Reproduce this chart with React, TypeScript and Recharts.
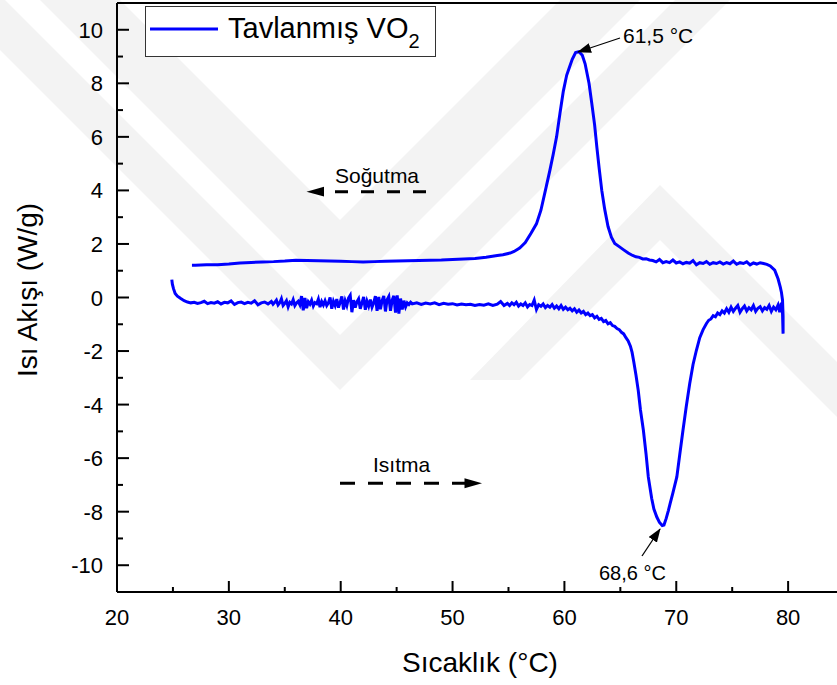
import React from 'react'
import { LineChart, Line, XAxis, YAxis, ReferenceLine } from 'recharts'

const W = 837
const H = 685
const FONT = '"Liberation Sans", Arial, sans-serif'
const BLUE = '#0000ff'

// heating run (lower curve), temperature °C / heat flow W/g
const heating: [number, number][] = [
  [24.9, 0.67], [24.95, 0.5], [25.05, 0.33], [25.2, 0.15], [25.4, 0.05], [25.7, -0.04], [26.0, -0.12], [26.3, -0.17], [26.6, -0.2],
  [26.9, -0.18], [27.2, -0.22], [27.5, -0.19], [27.8, -0.14], [28.1, -0.23], [28.4, -0.19], [28.7, -0.21], [29.0, -0.16], [29.3, -0.24],
  [29.6, -0.18], [29.9, -0.2], [30.2, -0.13], [30.5, -0.26], [30.8, -0.19], [31.1, -0.17], [31.4, -0.23], [31.7, -0.18], [32.0, -0.21],
  [32.3, -0.12], [32.6, -0.27], [32.9, -0.2], [33.2, -0.17], [33.5, -0.24],
  [33.8, -0.15], [33.95, -0.25], [34.1, -0.18], [34.25, -0.1], [34.4, -0.28], [34.55, -0.2], [34.7, -0.05], [34.85, -0.3], [35.0, -0.22],
  [35.15, -0.12], [35.3, -0.35], [35.45, -0.18], [35.6, -0.24], [35.75, -0.08], [35.9, -0.3], [36.05, -0.2], [36.2, -0.14], [36.35, -0.27],
  [36.5, 0.05], [36.65, -0.48], [36.8, -0.02], [36.95, -0.4], [37.1, -0.16], [37.25, -0.25], [37.4, -0.1], [37.55, -0.32], [37.7, -0.19],
  [37.85, -0.23], [38.0, -0.06], [38.15, -0.36], [38.3, -0.15], [38.45, -0.28], [38.6, -0.12], [38.75, -0.3], [38.9, -0.2], [39.05, 0.0],
  [39.2, -0.42], [39.35, -0.14], [39.5, -0.3], [39.65, -0.06], [39.8, -0.38], [39.95, -0.18], [40.1, 0.04], [40.25, -0.45], [40.4, -0.12],
  [40.55, -0.3], [40.7, -0.02], [40.85, 0.08], [41.0, -0.55], [41.15, -0.1], [41.3, -0.38], [41.45, -0.16], [41.6, -0.05], [41.75, -0.42],
  [41.9, -0.2], [42.05, 0.02], [42.2, -0.46], [42.35, -0.14], [42.5, -0.32], [42.65, -0.08], [42.8, -0.36], [42.95, -0.2], [43.1, 0.05],
  [43.25, -0.5], [43.4, 0.02], [43.55, -0.44], [43.7, -0.12], [43.85, 0.06], [44.0, -0.52], [44.15, -0.08], [44.3, 0.04], [44.45, -0.5],
  [44.6, -0.1], [44.75, 0.06], [44.9, -0.56], [45.05, 0.08], [45.2, -0.6], [45.35, -0.04], [45.5, -0.45], [45.65, -0.12], [45.8, -0.35],
  [45.95, -0.2], [46.1, -0.26], [46.25, -0.18], [46.4, -0.24],
  [46.8, -0.2], [47.2, -0.26], [47.6, -0.21], [48.0, -0.24], [48.4, -0.2], [48.8, -0.27], [49.2, -0.22], [49.6, -0.25],
  [50.0, -0.23], [50.4, -0.28], [50.8, -0.24], [51.2, -0.27], [51.6, -0.25], [52.0, -0.3], [52.4, -0.26], [52.8, -0.29], [53.2, -0.24],
  [53.6, -0.3], [54.0, -0.25], [54.3, -0.15], [54.6, -0.3],
  [54.9, -0.22], [55.1, -0.3], [55.3, -0.2], [55.5, -0.27], [55.7, -0.18], [55.9, -0.32], [56.1, -0.24], [56.3, -0.3], [56.5, -0.2],
  [56.7, -0.35], [56.9, -0.26], [57.1, -0.3], [57.3, -0.1], [57.5, -0.45], [57.7, -0.27], [57.9, -0.33], [58.1, -0.24], [58.3, -0.38],
  [58.5, -0.3], [58.7, -0.36], [58.9, -0.26], [59.1, -0.4], [59.3, -0.32], [59.5, -0.42], [59.7, -0.3], [59.9, -0.44], [60.1, -0.36],
  [60.3, -0.46], [60.5, -0.4], [60.7, -0.5], [60.9, -0.42], [61.1, -0.55], [61.3, -0.47], [61.5, -0.58], [61.7, -0.52], [61.9, -0.64],
  [62.1, -0.58], [62.3, -0.68], [62.5, -0.64], [62.7, -0.76], [62.9, -0.7], [63.1, -0.82], [63.3, -0.78], [63.5, -0.9], [63.7, -0.86],
  [63.9, -0.98], [64.1, -0.94], [64.3, -1.05], [64.5, -1.08], [64.7, -1.16], [64.9, -1.2], [65.1, -1.3], [65.3, -1.36], [65.5, -1.5],
  [65.7, -1.62], [65.9, -1.82], [66.05, -2.05], [66.2, -2.4],
  [66.4, -2.9], [66.6, -3.47], [66.8, -4.2], [67.06, -4.96], [67.3, -5.85], [67.5, -6.7], [67.8, -7.5], [68.0, -7.9], [68.26, -8.2],
  [68.5, -8.4], [68.75, -8.52], [68.9, -8.5], [69.1, -8.25], [69.3, -7.95], [69.45, -7.7], [69.7, -7.3], [70.05, -6.7], [70.3, -5.9],
  [70.6, -4.96], [70.9, -4.05], [71.2, -3.22], [71.5, -2.5], [71.8, -1.97], [72.1, -1.5], [72.4, -1.2],
  [72.7, -0.97], [72.9, -0.85], [73.1, -0.8], [73.3, -0.68], [73.5, -0.72], [73.7, -0.58], [73.9, -0.64], [74.1, -0.5], [74.3, -0.58],
  [74.5, -0.42], [74.7, -0.55], [74.9, -0.36], [75.1, -0.52], [75.3, -0.4], [75.5, -0.3], [75.7, -0.55], [75.9, -0.42], [76.1, -0.32],
  [76.3, -0.5], [76.5, -0.38], [76.7, -0.46], [76.9, -0.3], [77.1, -0.52], [77.3, -0.4], [77.5, -0.34], [77.7, -0.5], [77.9, -0.38],
  [78.1, -0.44], [78.3, -0.3], [78.5, -0.52], [78.7, -0.36], [78.9, -0.46], [79.1, -0.28], [79.25, -0.55], [79.4, -0.2], [79.5, -0.6],
  [79.55, -1.35], [79.55, -0.7], [79.5, -0.1],
]

// cooling run (upper curve), read right to left
const cooling: [number, number][] = [
  [79.4, 0.2], [79.3, 0.39], [79.1, 0.7], [78.8, 1.02], [78.4, 1.18], [78.1, 1.24], [77.8, 1.27], [77.5, 1.3], [77.2, 1.25],
  [76.9, 1.29], [76.6, 1.22], [76.3, 1.33], [76.0, 1.27], [75.7, 1.3], [75.4, 1.24], [75.1, 1.36], [74.8, 1.26], [74.5, 1.3],
  [74.2, 1.25], [73.9, 1.33], [73.6, 1.27], [73.3, 1.3], [73.0, 1.24], [72.7, 1.34], [72.4, 1.27], [72.1, 1.3], [71.8, 1.22],
  [71.5, 1.38], [71.2, 1.28], [70.9, 1.31], [70.6, 1.26], [70.3, 1.33], [70.0, 1.29], [69.7, 1.4], [69.4, 1.3], [69.1, 1.34],
  [68.8, 1.3], [68.5, 1.42], [68.2, 1.33], [67.9, 1.38], [67.6, 1.4], [67.3, 1.45], [67.0, 1.44], [66.7, 1.5], [66.4, 1.52],
  [66.1, 1.57], [65.7, 1.66], [65.3, 1.78], [64.9, 1.9], [64.5, 2.02], [64.2, 2.25], [63.9, 2.65], [63.6, 3.3], [63.34, 4.0],
  [63.1, 4.85], [62.9, 5.62], [62.7, 6.45], [62.45, 7.24], [62.2, 8.0], [61.85, 8.73], [61.6, 9.05], [61.3, 9.18], [61.0, 9.15],
  [60.7, 8.9], [60.45, 8.6], [60.2, 8.3], [59.9, 7.7], [59.6, 6.87], [59.3, 6.0], [59.0, 5.35], [58.7, 4.75], [58.3, 4.0],
  [57.9, 3.26], [57.5, 2.75], [57.0, 2.39], [56.5, 2.05], [56.0, 1.85], [55.5, 1.72], [55.15, 1.66], [54.5, 1.6], [54.0, 1.57],
  [53.0, 1.5], [52.0, 1.46], [51.0, 1.44], [50.0, 1.42], [49.0, 1.4], [48.0, 1.39], [47.0, 1.38], [46.0, 1.37], [45.0, 1.36],
  [44.0, 1.35], [43.0, 1.34], [42.0, 1.33], [41.0, 1.34], [40.0, 1.35], [39.0, 1.36], [38.0, 1.37], [37.0, 1.38], [36.0, 1.39],
  [35.0, 1.36], [34.0, 1.34], [33.0, 1.33], [32.0, 1.31], [31.0, 1.29], [30.0, 1.25], [29.0, 1.22], [28.0, 1.22], [27.0, 1.2],
  [26.7, 1.2],
]

const xTicks = [20, 25, 30, 35, 40, 45, 50, 55, 60, 65, 70, 75, 80]
const yTicks = [-10, -9, -8, -7, -6, -5, -4, -3, -2, -1, 0, 1, 2, 3, 4, 5, 6, 7, 8, 9, 10]

const data = [...heating, ...cooling].map(([t, q]) => ({ t, q }))

const XTick = (props: any) => {
  const { x, y, payload } = props
  const major = payload.value % 10 === 0
  return (
    <g>
      <line x1={x} x2={x} y1={y} y2={y - (major ? 11 : 5)} stroke="#000" strokeWidth={2} />
      {major && (
        <text x={x} y={y + 33} textAnchor="middle" fontSize={22} fontFamily={FONT} fill="#000">
          {payload.value}
        </text>
      )}
    </g>
  )
}

const YTick = (props: any) => {
  const { x, y, payload } = props
  const major = payload.value % 2 === 0
  return (
    <g>
      <line x1={x} x2={x + (major ? 12 : 6)} y1={y} y2={y} stroke="#000" strokeWidth={2} />
      {major && (
        <text x={x - 14} y={y + 8} textAnchor="end" fontSize={22} fontFamily={FONT} fill="#000">
          {payload.value}
        </text>
      )}
    </g>
  )
}

// faint page watermark behind the plot
function Watermark() {
  const g = '#f3f3f3'
  return (
    <svg width={W} height={H} style={{ position: 'absolute', left: 0, top: 0 }}>
      <polygon points="40,0 120,0 340,220 560,0 640,0 340,300" fill={g} />
      <polygon points="-50,0 5,0 340,335 675,0 730,0 340,390" fill={g} />
      <polygon points="470,380 520,380 660,240 837,417 837,362 660,185" fill={g} />
    </svg>
  )
}

function Overlay() {
  return (
    <svg width={W} height={H} style={{ position: 'absolute', left: 0, top: 0, pointerEvents: 'none' }}>
      <defs>
        <marker id="head" markerWidth="14" markerHeight="10" refX="13" refY="5" orient="auto" markerUnits="userSpaceOnUse">
          <path d="M0,0 L14,5 L0,10 z" fill="#000" />
        </marker>
      </defs>
      {/* legend */}
      <rect x={145.5} y={6.5} width={290} height={50} fill="#fff" stroke="#333" strokeWidth={1} />
      <line x1={150} x2={218} y1={29} y2={29} stroke={BLUE} strokeWidth={3} />
      <text x={228} y={37.5} fontSize={29} fontFamily={FONT} fill="#000">
        Tavlanmış VO<tspan fontSize={20} dy={10}>2</tspan>
      </text>

      {/* peak labels */}
      <line x1={620} y1={38} x2={578} y2={52} stroke="#000" strokeWidth={1.3} markerEnd="url(#head)" />
      <text x={623} y={42.5} fontSize={21} fontFamily={FONT} fill="#000">61,5 °C</text>
      <line x1={642} y1={556} x2={660} y2={529} stroke="#000" strokeWidth={1.3} markerEnd="url(#head)" />
      <text x={599} y={580} fontSize={20} fontFamily={FONT} fill="#000">68,6 °C</text>

      {/* direction arrows */}
      <text x={335} y={182.5} fontSize={21} fontFamily={FONT} fill="#000">Soğutma</text>
      <line x1={335} x2={433} y1={191.7} y2={191.7} stroke="#000" strokeWidth={3} strokeDasharray="13 13" />
      <path d="M306.5,191.7 L324,186.8 L324,196.6 z" fill="#000" />
      <text x={373} y={471.5} fontSize={21} fontFamily={FONT} fill="#000">Isıtma</text>
      <line x1={340} x2={466} y1={483.3} y2={483.3} stroke="#000" strokeWidth={3} strokeDasharray="15 13" />
      <path d="M482,483.3 L464.5,478.3 L464.5,488.3 z" fill="#000" />

      {/* axis titles */}
      <text x={480} y={672} textAnchor="middle" fontSize={28} fontFamily={FONT} fill="#000">Sıcaklık (°C)</text>
      <text
        x={0}
        y={0}
        transform="translate(37,290) rotate(-90)"
        textAnchor="middle"
        fontSize={28}
        fontFamily={FONT}
        fill="#000"
      >
        Isı Akışı (W/g)
      </text>
    </svg>
  )
}

export default function App() {
  return (
    <div style={{ position: 'absolute', left: 0, top: 0, width: W, height: H, background: '#fff' }}>
      <Watermark />
      <div style={{ position: 'absolute', left: 0, top: 0 }}>
        <LineChart width={W} height={H} data={data} margin={{ top: 3, right: 0, bottom: 0, left: 0 }}>
          <XAxis
            type="number"
            dataKey="t"
            domain={[20, 84.37]}
            allowDataOverflow
            ticks={xTicks}
            interval={0}
            tick={<XTick />}
            tickLine={false}
            tickSize={0}
            tickMargin={0}
            height={93}
            axisLine={{ stroke: '#000', strokeWidth: 2 }}
          />
          <YAxis
            type="number"
            domain={[-11, 11]}
            allowDataOverflow
            ticks={yTicks}
            interval={0}
            tick={<YTick />}
            tickLine={false}
            tickSize={0}
            tickMargin={0}
            width={117}
            axisLine={{ stroke: '#000', strokeWidth: 2 }}
          />
          <ReferenceLine y={11} stroke="#000" strokeWidth={2} />
          <Line
            type="linear"
            dataKey="q"
            stroke={BLUE}
            strokeWidth={3}
            dot={false}
            isAnimationActive={false}
          />
        </LineChart>
      </div>
      <Overlay />
    </div>
  )
}
